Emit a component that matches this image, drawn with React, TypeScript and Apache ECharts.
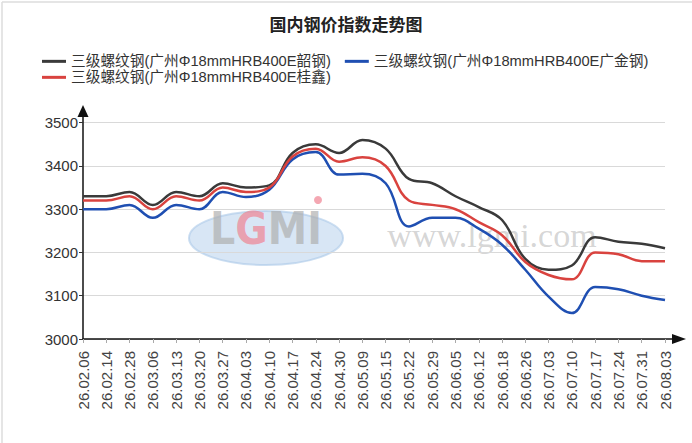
import React, { useEffect, useRef } from "react";
import * as echarts from "echarts";

const categories = [
  "26.02.06", "26.02.14", "26.02.28", "26.03.06", "26.03.13", "26.03.20", "26.03.27",
  "26.04.03", "26.04.10", "26.04.17", "26.04.24", "26.04.30", "26.05.09", "26.05.15",
  "26.05.22", "26.05.29", "26.06.05", "26.06.12", "26.06.18", "26.06.26", "26.07.03",
  "26.07.10", "26.07.17", "26.07.24", "26.07.31", "26.08.03",
];

const nameShaogang = "三级螺纹钢(广州Φ18mmHRB400E韶钢)";
const nameGuangjin = "三级螺纹钢(广州Φ18mmHRB400E广金钢)";
const nameGuixin = "三级螺纹钢(广州Φ18mmHRB400E桂鑫)";

const shaogang = [
  3330, 3330, 3340, 3310, 3340, 3330, 3360, 3350, 3355, 3430, 3450, 3430, 3460, 3440,
  3370, 3360, 3330, 3305, 3275, 3185, 3160, 3170, 3235, 3225, 3220, 3210,
];
const guixin = [
  3320, 3320, 3330, 3300, 3330, 3320, 3350, 3340, 3350, 3422, 3440, 3410, 3420, 3400,
  3320, 3310, 3300, 3270, 3240, 3178, 3148, 3138, 3200, 3196, 3180, 3180,
];
const guangjin = [
  3300, 3300, 3310, 3280, 3310, 3300, 3340, 3328, 3345, 3415, 3432, 3380, 3382, 3360,
  3260, 3280, 3280, 3255, 3218, 3160, 3098, 3060, 3120, 3115, 3100, 3090,
];

const yMin = 3000;
const yMax = 3500;
const yStep = 100;

const FONT = "'Liberation Sans', Arial, 'Noto Sans CJK SC', sans-serif";

export default function App() {
  const ref = useRef<HTMLDivElement>(null);

  useEffect(() => {
    if (!ref.current) return;
    const chart = echarts.init(ref.current, undefined, { renderer: "svg" });

    const legendText = { color: "#333", fontSize: 14.7, fontFamily: FONT };

    const option: any = {
      animation: false,
      backgroundColor: "#fff",
      title: {
        text: "国内钢价指数走势图",
        left: "center",
        top: 12,
        textStyle: { fontSize: 17, fontWeight: "bold", color: "#222", fontFamily: FONT },
      },
      legend: [
        {
          data: [nameShaogang, nameGuangjin],
          left: 37,
          top: 49,
          icon: "rect",
          itemWidth: 24,
          itemHeight: 3,
          itemGap: 14,
          textStyle: legendText,
        },
        {
          data: [nameGuixin],
          left: 37,
          top: 65,
          icon: "rect",
          itemWidth: 24,
          itemHeight: 3,
          textStyle: legendText,
        },
      ],
      grid: [
        { left: 83, right: 27, top: 122.7, bottom: 104 },
        { left: 83, right: 20, top: 117, bottom: 104 },
      ],
      xAxis: [
        {
          type: "category",
          gridIndex: 0,
          data: categories,
          boundaryGap: false,
          axisLine: { show: false },
          axisTick: { show: true, length: 4, lineStyle: { color: "#aaa" } },
          axisLabel: {
            rotate: 90,
            interval: 0,
            margin: 12,
            fontSize: 15,
            color: "#444",
            fontFamily: FONT,
          },
          splitLine: { show: false },
        },
        {
          type: "value",
          gridIndex: 1,
          axisLine: {
            show: true,
            onZero: false,
            symbol: ["none", "triangle"],
            symbolSize: [10, 14],
            symbolOffset: [0, 7],
            lineStyle: { color: "#111", width: 1.5 },
          },
          axisTick: { show: false },
          axisLabel: { show: false },
          splitLine: { show: false },
        },
      ],
      yAxis: [
        {
          type: "value",
          gridIndex: 0,
          min: yMin,
          max: yMax,
          interval: yStep,
          axisLine: { show: false },
          axisTick: { show: true, length: 4, lineStyle: { color: "#333" } },
          axisLabel: {
            margin: 5,
            fontSize: 15,
            color: "#333",
            fontFamily: FONT,
            formatter: (v: number) => String(v),
          },
          splitLine: { show: true, lineStyle: { color: "#d9d9d9", width: 1.2 } },
        },
        {
          type: "value",
          gridIndex: 1,
          axisLine: {
            show: true,
            onZero: false,
            symbol: ["none", "triangle"],
            symbolSize: [11, 12],
            symbolOffset: [0, 6],
            lineStyle: { color: "#111", width: 1.5 },
          },
          axisTick: { show: false },
          axisLabel: { show: false },
          splitLine: { show: false },
        },
      ],
      graphic: [
        { type: "line", shape: { x1: 2, y1: 2, x2: 692, y2: 2 }, style: { stroke: "#ddd", lineWidth: 1.5 }, z: -10 },
        { type: "line", shape: { x1: 2, y1: 2, x2: 2, y2: 443 }, style: { stroke: "#ddd", lineWidth: 1.5 }, z: -10 },
        {
          type: "ellipse",
          shape: { cx: 266, cy: 238, rx: 77, ry: 27 },
          style: { fill: "rgba(190,214,238,0.6)", stroke: "rgba(170,200,232,0.6)", lineWidth: 2 },
          z: -5,
        },
        {
          type: "text",
          x: 266,
          y: 228,
          style: {
            text: "{a|L}{b|G}{a|MI}",
            align: "center",
            verticalAlign: "middle",
            rich: {
              a: { fontSize: 44, fontWeight: "bold", fill: "rgba(175,175,175,0.7)", fontFamily: "'DejaVu Sans Condensed', sans-serif" },
              b: { fontSize: 44, fontWeight: "bold", fill: "rgba(240,130,145,0.7)", fontFamily: "'DejaVu Sans Condensed', sans-serif" },
            },
          },
          z: -4,
        },
        { type: "circle", shape: { cx: 318, cy: 200, r: 4 }, style: { fill: "rgba(240,130,145,0.7)" }, z: -4 },
        {
          type: "text",
          x: 492,
          y: 235,
          style: {
            text: "www.lgmi.com",
            align: "center",
            verticalAlign: "middle",
            fontSize: 34,
            fontFamily: "'Liberation Serif', serif",
            fill: "rgba(150,150,150,0.4)",
          },
          z: -4,
        },
      ],
      series: [
        {
          name: nameShaogang,
          type: "line",
          xAxisIndex: 0,
          yAxisIndex: 0,
          data: shaogang,
          smooth: 0.4,
          showSymbol: false,
          lineStyle: { color: "#3a3a3a", width: 2.5 },
          itemStyle: { color: "#3a3a3a" },
        },
        {
          name: nameGuangjin,
          type: "line",
          xAxisIndex: 0,
          yAxisIndex: 0,
          data: guangjin,
          smooth: 0.4,
          showSymbol: false,
          lineStyle: { color: "#1f4fb2", width: 2.5 },
          itemStyle: { color: "#1f4fb2" },
        },
        {
          name: nameGuixin,
          type: "line",
          xAxisIndex: 0,
          yAxisIndex: 0,
          data: guixin,
          smooth: 0.4,
          showSymbol: false,
          lineStyle: { color: "#d9433f", width: 2.5 },
          itemStyle: { color: "#d9433f" },
        },
      ],
    };

    chart.setOption(option);
    return () => chart.dispose();
  }, []);

  return (
    <div
      ref={ref}
      style={{ position: "fixed", left: 0, top: 0, width: 692, height: 443, background: "#fff" }}
    />
  );
}
